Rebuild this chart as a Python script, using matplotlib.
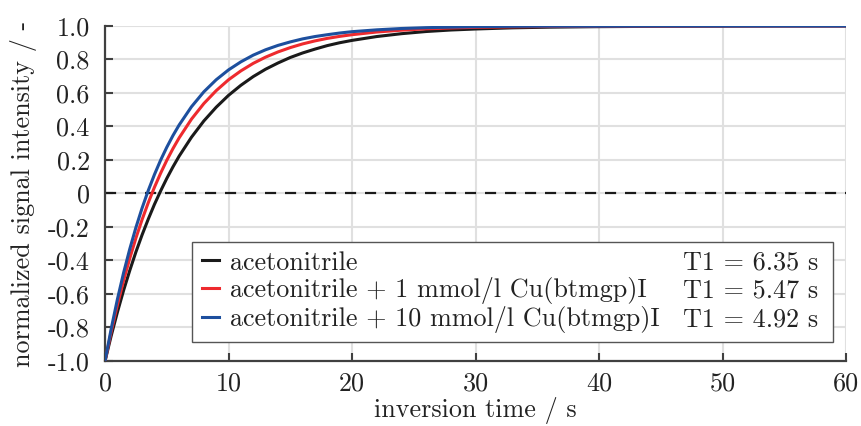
import matplotlib
matplotlib.use("Agg")
import matplotlib.pyplot as plt

plt.rcParams["font.family"] = "serif"
plt.rcParams["font.serif"] = ["cmr10"]
plt.rcParams["axes.formatter.use_mathtext"] = True

# inversion times (s) and normalized signal
t = [0, 0.5, 1, 1.5, 2, 2.5, 3, 3.5, 4, 4.5, 5, 5.5, 6, 7, 8, 9, 10, 11, 12, 13, 14, 15,
     16, 17, 18, 19, 20, 22, 24, 26, 28, 30, 33, 36, 40, 45, 50, 55, 60]
acn = [-1.0, -0.849, -0.709, -0.579, -0.460, -0.349, -0.247, -0.153, -0.065, 0.015, 0.090,
       0.159, 0.223, 0.336, 0.433, 0.515, 0.586, 0.646, 0.698, 0.742, 0.779, 0.812,
       0.839, 0.862, 0.883, 0.900, 0.914, 0.937, 0.954, 0.967, 0.976, 0.982, 0.989, 0.993,
       0.996, 0.998, 0.999, 1.0, 1.0]
acn_1mm = [-1.0, -0.825, -0.666, -0.520, -0.388, -0.266, -0.156, -0.055, 0.037, 0.121, 0.198,
           0.268, 0.332, 0.444, 0.537, 0.614, 0.679, 0.732, 0.777, 0.814, 0.845, 0.871,
           0.893, 0.911, 0.926, 0.938, 0.948, 0.964, 0.975, 0.983, 0.988, 0.992, 0.995, 0.997,
           0.999, 0.999, 1.0, 1.0, 1.0]
acn_10mm = [-1.0, -0.807, -0.632, -0.474, -0.332, -0.203, -0.087, 0.018, 0.113, 0.199, 0.276,
            0.346, 0.409, 0.518, 0.607, 0.679, 0.738, 0.786, 0.826, 0.858, 0.884, 0.905,
            0.923, 0.937, 0.948, 0.958, 0.966, 0.977, 0.985, 0.990, 0.993, 0.996, 0.998, 0.999,
            0.999, 1.0, 1.0, 1.0, 1.0]

labels = ["acetonitrile",
          "acetonitrile + 1 mmol/l Cu(btmgp)I",
          "acetonitrile + 10 mmol/l Cu(btmgp)I"]
t1_texts = ["T1 = 6.35 s", "T1 = 5.47 s", "T1 = 4.92 s"]
colors = ["#1a1a1a", "#ee2a2e", "#1d4f9e"]

xticks = [0, 10, 20, 30, 40, 50, 60]
yticks = [-1.0, -0.8, -0.6, -0.4, -0.2, 0.0, 0.2, 0.4, 0.6, 0.8, 1.0]
ytick_labels = ["-1.0", "-0.8", "-0.6", "-0.4", "-0.2", "0", "0.2", "0.4", "0.6", "0.8", "1.0"]

fs = 18.8

fig = plt.figure(figsize=(8.61, 4.26), dpi=100)
ax = fig.add_axes([0.122, 0.1526, 0.8606, 0.7864])

ax.grid(True, color="#e0e0e0", linewidth=1.5)
ax.set_axisbelow(True)

ax.axhline(0, color="#1a1a1a", linestyle=(0, (5, 4)), linewidth=1.6, zorder=2)

for y, lab, c in zip([acn, acn_1mm, acn_10mm], labels, colors):
    ax.plot(t, y, color=c, linewidth=2.2, label=lab, zorder=3)

ax.set_xlim(0, 60)
ax.set_ylim(-1, 1)
ax.set_xticks(xticks)
ax.set_xticklabels([str(v) for v in xticks])
ax.set_yticks(yticks)
ax.set_yticklabels(ytick_labels)
ax.tick_params(axis="both", direction="in", length=6, width=1.5, color="#404040",
               labelsize=fs, labelcolor="#222222")
ax.tick_params(axis="y", pad=11)
ax.tick_params(axis="x", pad=8)

for side in ["top", "right"]:
    ax.spines[side].set_visible(False)
for side in ["left", "bottom"]:
    ax.spines[side].set_color("#404040")
    ax.spines[side].set_linewidth(1.6)

ax.set_xlabel("inversion time / s", fontsize=fs, color="#222222", labelpad=1)
ax.set_ylabel("normalized signal intensity / -", fontsize=fs, color="#222222", labelpad=8)

leg = ax.legend(loc="lower left", bbox_to_anchor=(0.118, 0.057, 0.865, 0.304), mode="expand",
                fontsize=fs, frameon=True, fancybox=False, framealpha=1, edgecolor="#555555",
                handlelength=0.65, handletextpad=0.42, labelspacing=0.08, borderaxespad=0,
                borderpad=0.35)
leg.get_frame().set_linewidth(1.0)
for txt in leg.get_texts():
    txt.set_color("#222222")

fig.canvas.draw()
inv = ax.transAxes.inverted()
for txt, s in zip(leg.get_texts(), t1_texts):
    bb = txt.get_window_extent()
    _, yc = inv.transform((0, (bb.y0 + bb.y1) / 2))
    ax.text(0.962, yc, s, transform=ax.transAxes, ha="right", va="center",
            fontsize=fs, color="#222222", zorder=6)

fig.savefig("out.png", dpi=100)
